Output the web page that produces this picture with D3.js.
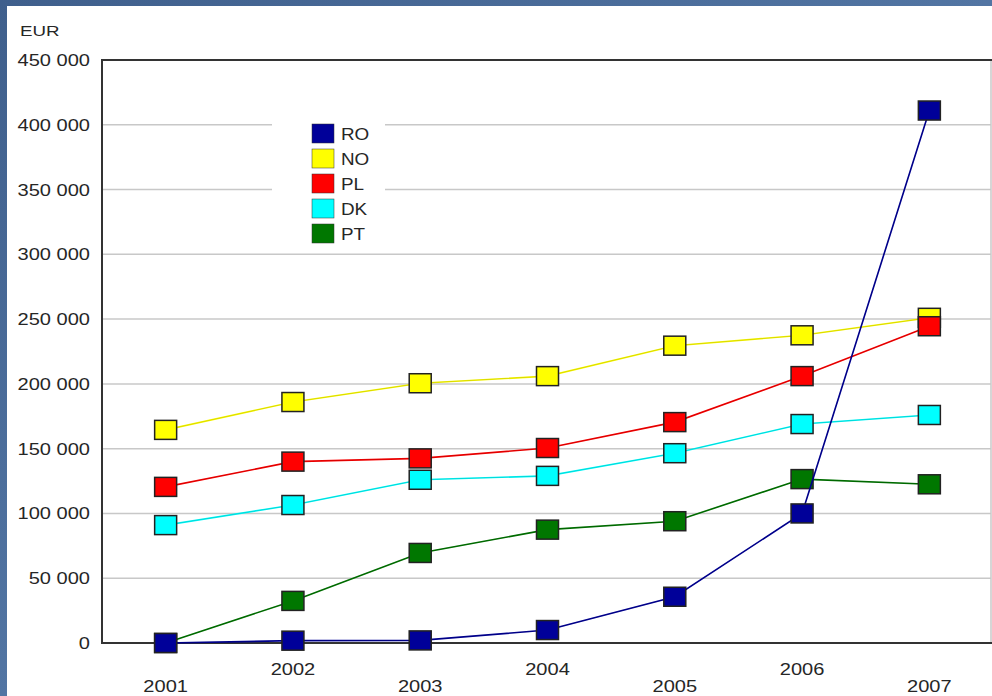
<!DOCTYPE html>
<html>
<head>
<meta charset="utf-8">
<script src="https://cdn.jsdelivr.net/npm/d3@7"></script>
<style>
  html, body { margin: 0; padding: 0; background: #4a6a95; }
  svg { display: block; }
  text { font-family: "Liberation Sans", Arial, sans-serif; fill: #262626; }
</style>
</head>
<body>
<svg id="chart" width="992" height="696"></svg>
<script>
// ---- data ----
const years = ["2001", "2002", "2003", "2004", "2005", "2006", "2007"];
const seriesNames = ["RO", "NO", "PL", "DK", "PT"];
const seriesColors = ["#000099", "#ffff00", "#ff0000", "#00ffff", "#007700"];
const RO = [0, 1800, 2000, 10000, 35700, 100000, 411000];
const NO = [164500, 186000, 200500, 206000, 229500, 237500, 251000];
const PL = [120500, 140000, 142500, 150500, 170500, 206000, 244500];
const DK = [91000, 106500, 126000, 129000, 146500, 169000, 176000];
const PT = [0, 32500, 69500, 87500, 94000, 126500, 122500];
const yTicks = [0, 50000, 100000, 150000, 200000, 250000, 300000, 350000, 400000, 450000];
const yUnit = "EUR";

const seriesValues = { RO, NO, PL, DK, PT };
const drawOrder = ["NO", "PL", "DK", "PT", "RO"];

// ---- layout ----
const svg = d3.select("#chart");
const W = 992, H = 696;
const plot = { left: 102, right: 993, top: 60, bottom: 643 };
const SX = 1.18; // horizontal text stretch of the original

// background with subtle texture
const defs = svg.append("defs");
const grad = defs.append("linearGradient").attr("id", "bg").attr("x1", 0).attr("y1", 0).attr("x2", 1).attr("y2", 1);
grad.append("stop").attr("offset", "0%").attr("stop-color", "#3f5f8c");
grad.append("stop").attr("offset", "50%").attr("stop-color", "#5275a3");
grad.append("stop").attr("offset", "100%").attr("stop-color", "#46679a");
svg.append("rect").attr("width", W).attr("height", H).attr("fill", "url(#bg)");

// white panel
svg.append("rect").attr("x", 7).attr("y", 6).attr("width", W - 7).attr("height", H - 6).attr("fill", "#ffffff");

const x = d3.scalePoint().domain(years).range([plot.left, plot.right]).padding(0.5);
const y = d3.scaleLinear().domain([0, 450000]).range([plot.bottom, plot.top]);

const fmt = d3.formatLocale({ decimal: ",", thousands: " ", grouping: [3], currency: ["", " €"] }).format(",d");

// gridlines
svg.append("g").selectAll("line").data(yTicks.filter(d => d > 0 && d < 450000)).join("line")
  .attr("x1", plot.left).attr("x2", 991)
  .attr("y1", d => y(d)).attr("y2", d => y(d))
  .attr("stroke", "#c8c8c8").attr("stroke-width", 1.5);

// right border
svg.append("line").attr("x1", 991).attr("x2", 991).attr("y1", y(450000)).attr("y2", y(0))
  .attr("stroke", "#c8c8c8").attr("stroke-width", 1.5);

// top border, baseline, left axis
svg.append("line").attr("x1", plot.left).attr("x2", W).attr("y1", y(450000)).attr("y2", y(450000))
  .attr("stroke", "#333").attr("stroke-width", 2);
svg.append("line").attr("x1", plot.left).attr("x2", W).attr("y1", y(0)).attr("y2", y(0))
  .attr("stroke", "#333").attr("stroke-width", 2);
svg.append("line").attr("x1", plot.left).attr("x2", plot.left).attr("y1", y(450000) - 1).attr("y2", y(0) + 1)
  .attr("stroke", "#333").attr("stroke-width", 2);

// y tick labels
svg.append("g").selectAll("text").data(yTicks).join("text")
  .attr("transform", d => `translate(90,${y(d) + 6}) scale(${SX},1)`)
  .attr("text-anchor", "end").attr("font-size", 17)
  .text(d => fmt(d));

// unit label
svg.append("text").attr("transform", `translate(20,36) scale(1.25,1)`).attr("font-size", 15).text(yUnit);

// x tick labels (staggered)
svg.append("g").selectAll("text").data(years).join("text")
  .attr("transform", (d, i) => `translate(${x(d)},${i % 2 === 1 ? 675 : 692}) scale(${SX},1)`)
  .attr("text-anchor", "middle").attr("font-size", 17)
  .text(d => d);

// legend box (covers gridlines)
const lg = svg.append("g");
lg.append("rect").attr("x", 272).attr("y", 112).attr("width", 113).attr("height", 136).attr("fill", "#ffffff");
seriesNames.forEach((name, i) => {
  const cy = 133.5 + i * 25;
  lg.append("rect").attr("x", 312).attr("y", cy - 9.5).attr("width", 22).attr("height", 19)
    .attr("fill", seriesColors[i]).attr("stroke", "#333").attr("stroke-width", 0.5);
  lg.append("text").attr("transform", `translate(341,${cy + 6}) scale(${SX},1)`)
    .attr("font-size", 16).text(name);
});

// series
const line = d3.line().x((d, i) => x(years[i])).y(d => y(d));
drawOrder.forEach(name => {
  const idx = seriesNames.indexOf(name);
  const col = seriesColors[idx];
  const vals = seriesValues[name];
  const g = svg.append("g");
  g.append("path").datum(vals).attr("d", line).attr("fill", "none")
    .attr("stroke", col).attr("stroke-width", 1.6);
  g.append("path").datum(vals).attr("d", line).attr("fill", "none")
    .attr("stroke", "#000").attr("stroke-opacity", 0.25).attr("stroke-width", 0.6);
  g.selectAll("rect").data(vals).join("rect")
    .attr("x", (d, i) => x(years[i]) - 11).attr("y", d => y(d) - 9.5)
    .attr("width", 22).attr("height", 19)
    .attr("fill", col).attr("stroke", "#222").attr("stroke-width", 1.5);
});
</script>
</body>
</html>
